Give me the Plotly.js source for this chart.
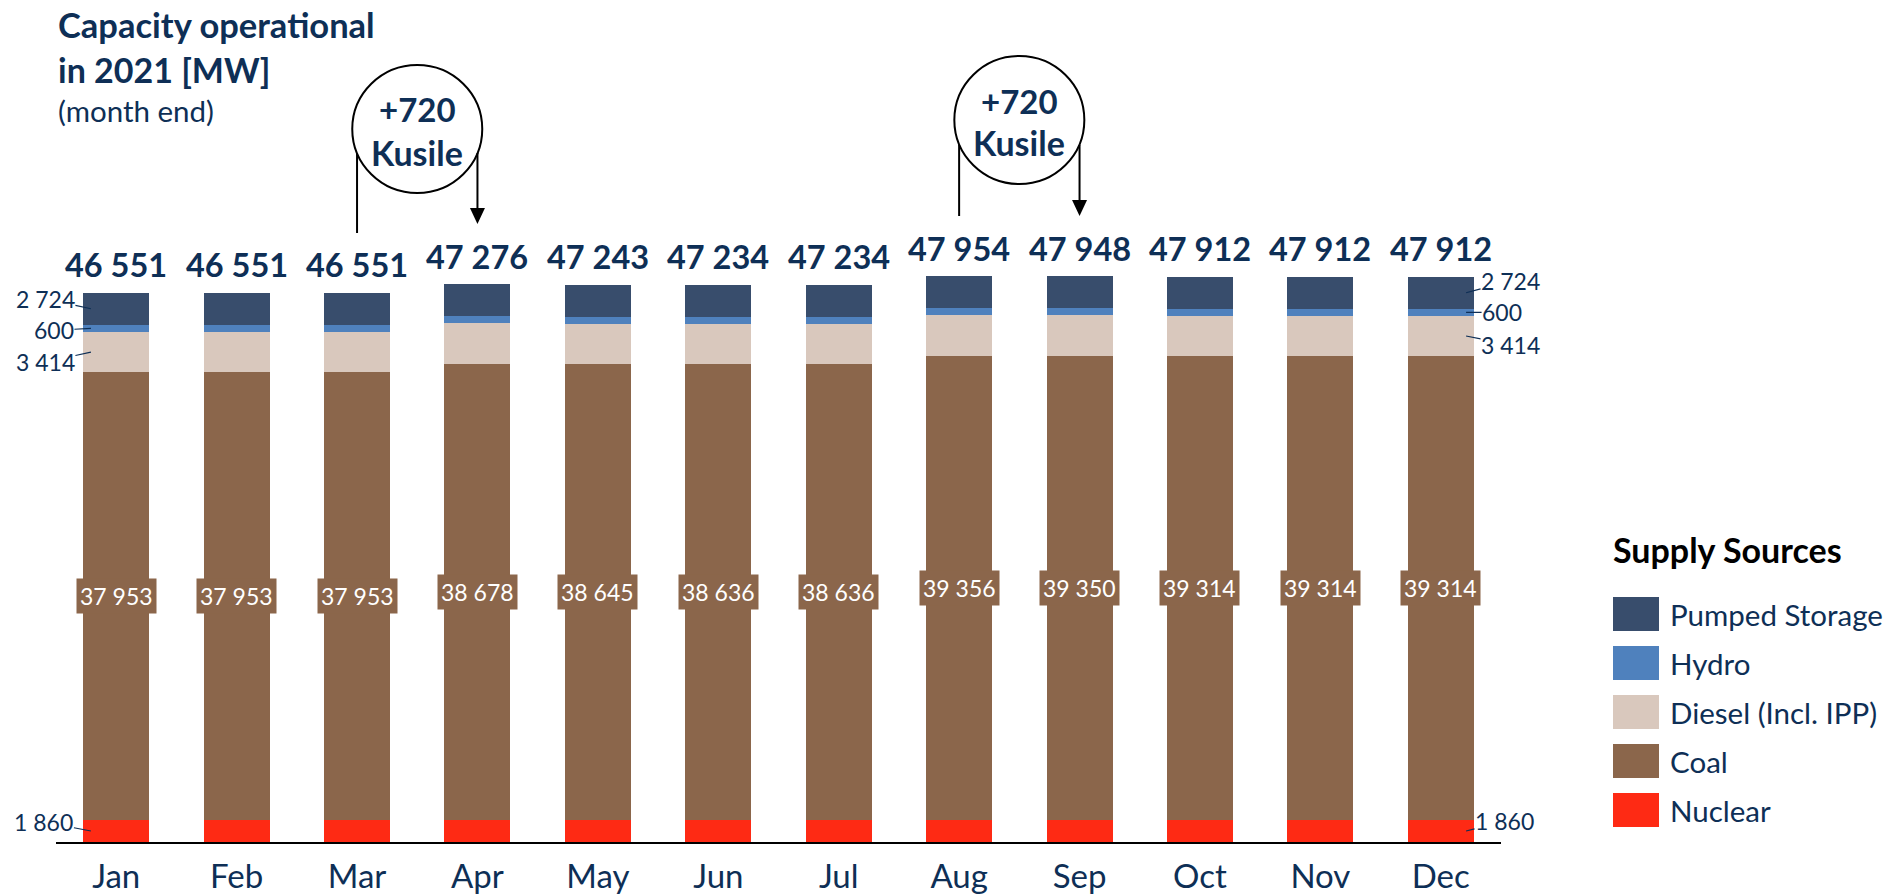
<!DOCTYPE html>
<html>
<head>
<meta charset="utf-8">
<script src="https://cdn.plot.ly/plotly-3.0.1.min.js"></script>
<style>html,body{margin:0;padding:0;background:#fff;}#chart{width:1885px;height:895px;}</style>
</head>
<body>
<div id="chart"></div>
<script>
// ---- data ----
const months = ['Jan','Feb','Mar','Apr','May','Jun','Jul','Aug','Sep','Oct','Nov','Dec'];
const nuclear = [1860,1860,1860,1860,1860,1860,1860,1860,1860,1860,1860,1860];
const coal    = [37953,37953,37953,38678,38645,38636,38636,39356,39350,39314,39314,39314];
const diesel  = [3414,3414,3414,3414,3414,3414,3414,3414,3414,3414,3414,3414];
const hydro   = [600,600,600,600,600,600,600,600,600,600,600,600];
const pumped  = [2724,2724,2724,2724,2724,2724,2724,2724,2724,2724,2724,2724];
const totals  = [46551,46551,46551,47276,47243,47234,47234,47954,47948,47912,47912,47912];
const seriesNames = ['Pumped Storage','Hydro','Diesel (Incl. IPP)','Coal','Nuclear'];
const kusileAdds = [{from:2, to:3, text:'+720'}, {from:7, to:8, text:'+720'}];

// ---- style ----
const NAVY = '#0e2f56';
const COLORS = {pumped:'#384d6c', hydro:'#4f81bd', diesel:'#d9c8bd', coal:'#8b664b', nuclear:'#fe2a14'};
const FONT = 'Lato, "Open Sans", sans-serif';
const L = 56, T = 134, W = 1445, H = 708;
const PX = x => (x - L) / W;
const PY = y => (T + H - y) / H;
const fmt = n => String(n).replace(/\B(?=(\d{3})+(?!\d))/g, ' ');

function bar(name, y, color) {
  return {type:'bar', name:name, x:months, y:y, marker:{color:color, line:{width:0}},
          hoverinfo:'skip', showlegend:false};
}
const traces = [
  bar('Nuclear', nuclear, COLORS.nuclear),
  bar('Coal', coal, COLORS.coal),
  bar('Diesel (Incl. IPP)', diesel, COLORS.diesel),
  bar('Hydro', hydro, COLORS.hydro),
  bar('Pumped Storage', pumped, COLORS.pumped)
];

const annotations = [];
const shapes = [];

// titles
annotations.push({xref:'paper', yref:'paper', x:PX(56), y:PY(25), xanchor:'left', yanchor:'middle',
  text:'<b>Capacity operational</b>', showarrow:false, font:{family:FONT, size:34.5, color:NAVY}});
annotations.push({xref:'paper', yref:'paper', x:PX(56), y:PY(69), xanchor:'left', yanchor:'middle',
  text:'<b>in 2021 [MW]</b>', showarrow:false, font:{family:FONT, size:34, color:NAVY}});
annotations.push({xref:'paper', yref:'paper', x:PX(56), y:PY(111), xanchor:'left', yanchor:'middle',
  text:'(month end)', showarrow:false, font:{family:FONT, size:29.5, color:NAVY}});

// totals and coal labels
months.forEach((m, i) => {
  annotations.push({x:i, y:totals[i], xref:'x', yref:'y', xanchor:'center', yanchor:'middle', yshift:28,
    text:'<b>' + fmt(totals[i]) + '</b>', showarrow:false, font:{family:FONT, size:32.5, color:NAVY}});
  annotations.push({x:i, y:nuclear[i] + coal[i] / 2, xref:'x', yref:'y', xanchor:'center', yanchor:'middle',
    text:fmt(coal[i]), showarrow:false, bgcolor:COLORS.coal, borderpad:3,
    font:{family:FONT, size:23, color:'#ffffff'}});
});

// side value labels with leader lines
function sideLabels(i, side) {
  const dx = side < 0 ? -0.21 : 0.21;
  const nucMid = nuclear[i] / 2;
  const dieMid = nuclear[i] + coal[i] + diesel[i] / 2;
  const hydMid = nuclear[i] + coal[i] + diesel[i] + hydro[i] / 2;
  const pumMid = nuclear[i] + coal[i] + diesel[i] + hydro[i] + pumped[i] / 2;
  const items = side < 0 ? [
    [pumMid, pumped[i], -45.5, -10],
    [hydMid, hydro[i], -37, 2],
    [dieMid, diesel[i], -45.5, 10],
    [nucMid, nuclear[i], -47, -9]
  ] : [
    [pumMid, pumped[i], 44.5, -12],
    [hydMid, hydro[i], 36, 0],
    [dieMid, diesel[i], 44.5, 9],
    [nucMid, nuclear[i], 38.5, -10]
  ];
  items.forEach(([y, v, ax, ay]) => {
    annotations.push({x:i + dx, y:y, xref:'x', yref:'y', text:fmt(v), showarrow:true,
      arrowhead:0, arrowwidth:1.2, arrowcolor:NAVY, ax:ax, ay:ay, standoff:0, borderpad:0,
      font:{family:FONT, size:23, color:NAVY}});
  });
}
sideLabels(0, -1);
sideLabels(11, 1);

// Kusile callouts
const calloutY = [{cy:129, lineTop:153, lineBot:233, tip:224, t1:109, t2:152},
                  {cy:120, lineTop:145, lineBot:216, tip:216, t1:101, t2:143}];
const R = 65, STEP = W / 12;
kusileAdds.forEach((k, j) => {
  const c = calloutY[j];
  const xFrom = L + STEP * (k.from + 0.5), xTo = L + STEP * (k.to + 0.5);
  const cx = (xFrom + xTo) / 2;
  shapes.push({type:'circle', xref:'paper', yref:'paper', x0:PX(cx - R), x1:PX(cx + R),
    y0:PY(c.cy + R - 1), y1:PY(c.cy - R + 1), line:{color:'#000', width:2}});
  shapes.push({type:'line', xref:'paper', yref:'paper', x0:PX(xFrom), x1:PX(xFrom),
    y0:PY(c.lineTop), y1:PY(c.lineBot), line:{color:'#000', width:2}});
  shapes.push({type:'line', xref:'paper', yref:'paper', x0:PX(xTo), x1:PX(xTo),
    y0:PY(c.lineTop), y1:PY(c.tip - 12), line:{color:'#000', width:2}});
  shapes.push({type:'path', xref:'paper', yref:'paper',
    path:'M ' + PX(xTo - 7.5) + ' ' + PY(c.tip - 16) + ' L ' + PX(xTo + 7.5) + ' ' + PY(c.tip - 16) +
         ' L ' + PX(xTo) + ' ' + PY(c.tip) + ' Z', fillcolor:'#000', line:{width:0}});
  annotations.push({xref:'paper', yref:'paper', x:PX(cx), y:PY(c.t1), xanchor:'center', yanchor:'middle',
    text:'<b>' + k.text + '</b>', showarrow:false, font:{family:FONT, size:33, color:NAVY}});
  annotations.push({xref:'paper', yref:'paper', x:PX(cx), y:PY(c.t2), xanchor:'center', yanchor:'middle',
    text:'<b>Kusile</b>', showarrow:false, font:{family:FONT, size:34, color:NAVY}});
});

// legend (manual, large swatches)
annotations.push({xref:'paper', yref:'paper', x:PX(1611), y:PY(549), xanchor:'left', yanchor:'middle',
  text:'<b>Supply Sources</b>', showarrow:false, font:{family:FONT, size:34, color:'#000'}});
const legColors = [COLORS.pumped, COLORS.hydro, COLORS.diesel, COLORS.coal, COLORS.nuclear];
seriesNames.forEach((n, i) => {
  const cy = 614 + i * 49;
  shapes.push({type:'rect', xref:'paper', yref:'paper', x0:PX(1613), x1:PX(1659),
    y0:PY(cy + 17), y1:PY(cy - 17), fillcolor:legColors[i], line:{width:0}});
  annotations.push({xref:'paper', yref:'paper', x:PX(1668), y:PY(cy), xanchor:'left', yanchor:'middle',
    text:n, showarrow:false, font:{family:FONT, size:29.5, color:NAVY}});
});

const layout = {
  width:1885, height:895,
  margin:{l:L, r:1885 - L - W, t:T, b:895 - T - H, pad:0},
  paper_bgcolor:'#ffffff', plot_bgcolor:'#ffffff',
  barmode:'stack', bargap:0.452,
  showlegend:false,
  xaxis:{type:'category', range:[-0.5, 11.5], showgrid:false, zeroline:false,
         showline:true, linecolor:'#000', linewidth:2, ticks:'', ticklabelstandoff:4,
         tickfont:{family:FONT, size:33, color:NAVY}, fixedrange:true},
  yaxis:{range:[0, 60000], visible:false, showgrid:false, zeroline:false, fixedrange:true},
  annotations:annotations, shapes:shapes,
  font:{family:FONT, color:NAVY}
};
Plotly.newPlot('chart', traces, layout, {displayModeBar:false, staticPlot:true});
</script>
</body>
</html>
